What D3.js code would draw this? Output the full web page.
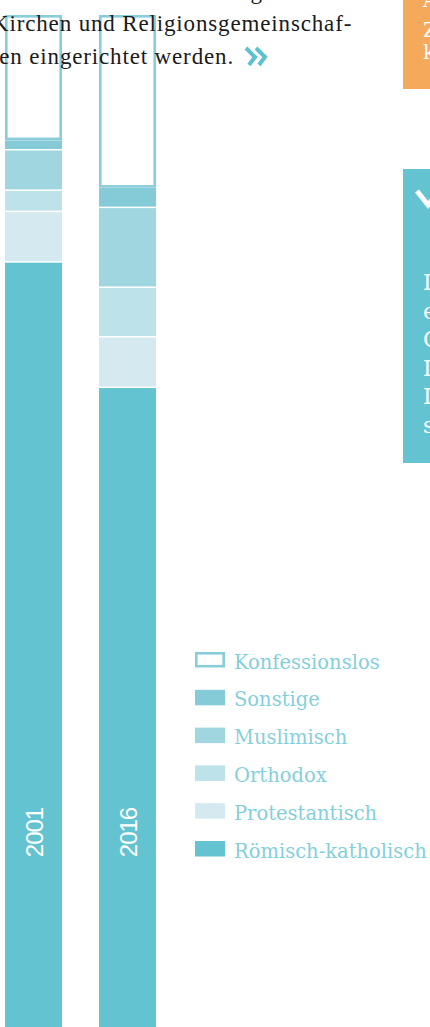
<!DOCTYPE html>
<html>
<head>
<meta charset="utf-8">
<script src="https://cdn.jsdelivr.net/npm/d3@7"></script>
<style>
  body { margin: 0; background: #fff; }
  svg { display: block; }
</style>
</head>
<body>
<div id="body"></div>
<script>
// data (percent of population)
var years = ['2001', '2016'];
var categories = ['Römisch-katholisch', 'Protestantisch', 'Orthodox', 'Muslimisch', 'Sonstige', 'Konfessionslos'];
var values2001 = [75.5, 5.0, 2.1, 4.0, 1.0, 12.4];
var values2016 = [63.1, 5.0, 4.9, 7.9, 2.0, 17.1];
var colors = ['#64c3d0', '#d4eaf0', '#bee2ea', '#9fd6df', '#85cad7', '#ffffff'];
var legendOrder = ['Konfessionslos', 'Sonstige', 'Muslimisch', 'Orthodox', 'Protestantisch', 'Römisch-katholisch'];

// body text around the chart
var textLines = ['ht an den Schulen für die gesetzlich anerkannten',
                 'Kirchen und Religionsgemeinschaf-',
                 'ten eingerichtet werden.'];
var orangeLines = ['Am', 'Zu', 'ke'];
var tealLines = ['In', 'ein', 'Cr', 'In', 'In', 'se'];

var W = 430, H = 1027;

var svg = d3.select('#body')
    .append('svg')
    .attr('width', W)
    .attr('height', H);

// build table for the stack
var table = years.map(function (y, i) {
  var vals = i === 0 ? values2001 : values2016;
  var row = { year: y };
  categories.forEach(function (c, j) { row[c] = vals[j]; });
  return row;
});

var stack = d3.stack().keys(categories)(table);

var x = d3.scaleBand()
    .domain(years)
    .range([5, 156])
    .paddingInner(37 / 94)
    .paddingOuter(0);

var y = d3.scaleLinear()
    .domain([0, 100])
    .range([1026, 15]);

var color = d3.scaleOrdinal().domain(categories).range(colors);

var gap = 1.5;

// bars
var layers = svg.append('g')
  .selectAll('g')
  .data(stack)
  .join('g');

layers.each(function (layer) {
  var g = d3.select(this);
  var key = layer.key;
  if (key === 'Konfessionslos') {
    g.selectAll('rect')
      .data(layer)
      .join('rect')
      .attr('x', function (d) { return x(d.data.year) + 1.3; })
      .attr('y', function (d) { return y(d[1]) + 1.3; })
      .attr('width', x.bandwidth() - 2.6)
      .attr('height', function (d) { return y(d[0]) - y(d[1]) - gap - 1.3; })
      .attr('fill', '#fff')
      .attr('stroke', '#88cdd9')
      .attr('stroke-width', 2.6);
  } else {
    g.selectAll('rect')
      .data(layer)
      .join('rect')
      .attr('x', function (d) { return x(d.data.year); })
      .attr('y', function (d) { return y(d[1]); })
      .attr('width', x.bandwidth())
      .attr('height', function (d) {
        var h = y(d[0]) - y(d[1]);
        return d[0] === 0 ? h + 2 : h - gap;
      })
      .attr('fill', color(key));
  }
});

// year labels inside the bars
svg.append('g')
  .selectAll('text')
  .data(years)
  .join('text')
  .attr('transform', function (d) { return 'translate(' + (x(d) + 38) + ',832.5) rotate(-90)'; })
  .attr('text-anchor', 'middle')
  .attr('font-family', 'Liberation Sans, Arial, sans-serif')
  .attr('font-size', 24)
  .attr('letter-spacing', -1)
  .attr('fill', '#fff')
  .text(function (d) { return d; });

// legend
var legend = svg.append('g');
var row = d3.scaleLinear().domain([0, 1]).range([652, 689.8]);

legend.selectAll('rect')
  .data(legendOrder)
  .join('rect')
  .attr('x', function (d) { return d === 'Konfessionslos' ? 196.3 : 195; })
  .attr('y', function (d, i) { return row(i) + (d === 'Konfessionslos' ? 1.3 : 0); })
  .attr('width', function (d) { return d === 'Konfessionslos' ? 27.4 : 30; })
  .attr('height', function (d) { return d === 'Konfessionslos' ? 12.9 : 15.5; })
  .attr('fill', function (d) { return color(d); })
  .attr('stroke', function (d) { return d === 'Konfessionslos' ? '#88cdd9' : 'none'; })
  .attr('stroke-width', 2.6);

legend.selectAll('text')
  .data(legendOrder)
  .join('text')
  .attr('x', 234)
  .attr('y', function (d, i) { return row(i) + 16.5; })
  .attr('font-family', 'DejaVu Serif, serif')
  .attr('font-size', 19.5)
  .attr('fill', '#84cfda')
  .text(function (d) { return d; });

// running text at the top
var lineY = [-1, 30.5, 63.5];
svg.append('g')
  .selectAll('text')
  .data(textLines)
  .join('text')
  .attr('x', -8)
  .attr('y', function (d, i) { return lineY[i]; })
  .attr('font-family', 'Liberation Serif, serif')
  .attr('font-size', 23)
  .attr('letter-spacing', 0.85)
  .attr('fill', '#1a1a1a')
  .text(function (d) { return d; });

// teal double chevron after the text
svg.append('g')
  .selectAll('path')
  .data([0, 1])
  .join('path')
  .attr('d', function (d) {
    var x0 = 246 + d * 10;
    return 'M' + x0 + ',48 L' + (x0 + 9) + ',57 L' + (x0 + 3) + ',65';
  })
  .attr('fill', 'none')
  .attr('stroke', '#5dc1cf')
  .attr('stroke-width', 4);

// side boxes, cut off by the right edge
svg.append('rect')
  .attr('x', 403).attr('y', -10)
  .attr('width', 40).attr('height', 99)
  .attr('fill', '#f5a95b');

svg.append('g')
  .selectAll('text')
  .data(orangeLines)
  .join('text')
  .attr('x', 423)
  .attr('y', function (d, i) { return [7, 37, 58.5][i]; })
  .attr('font-family', 'DejaVu Serif, serif')
  .attr('font-size', 20)
  .attr('fill', '#fff')
  .text(function (d) { return d; });

svg.append('rect')
  .attr('x', 403).attr('y', 169)
  .attr('width', 40).attr('height', 294)
  .attr('fill', '#64c3d0');

svg.append('path')
  .attr('d', 'M417,191 L428,205 L439,191')
  .attr('fill', 'none')
  .attr('stroke', '#fff')
  .attr('stroke-width', 5);

svg.append('g')
  .selectAll('text')
  .data(tealLines)
  .join('text')
  .attr('x', 423)
  .attr('y', function (d, i) { return 290 + i * 28.5; })
  .attr('font-family', 'DejaVu Serif, serif')
  .attr('font-size', 22)
  .attr('fill', '#fff')
  .text(function (d) { return d; });
</script>
</body>
</html>
